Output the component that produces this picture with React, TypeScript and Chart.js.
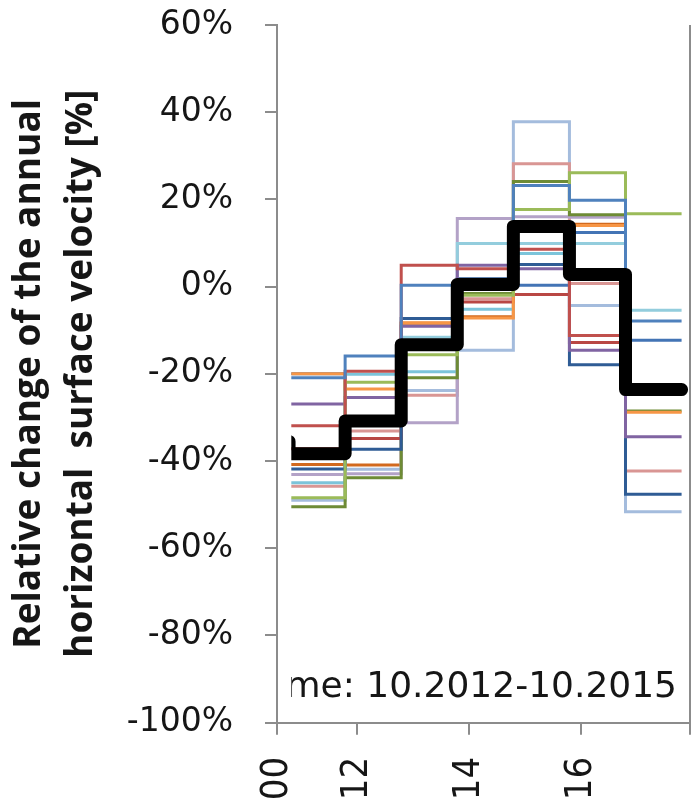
import { useEffect, useRef } from 'react';
import { Chart, registerables } from 'chart.js';

Chart.register(...registerables);

// Start of each annual period (hydrological year beginning in October), plus the final end.
const yearStarts = [2010.79, 2011.79, 2012.79, 2013.79, 2014.79, 2015.79, 2016.79, 2017.79];
// Left edge of the visible drawing window for the series.
const visibleFrom = 2010.83;

// Relative change per annual period [%], one array per glacier point (null = no data).
const blue = [-20.9, -15.9, 0.3, 1.0, 23.2, 19.8, -7.9];
const red = [-31.9, -19.4, 4.9, 4.1, 8.6, -11.2, null];
const lightGreen = [-48.4, -21.9, -15.6, -2.0, 17.7, 26.1, 16.7];
const purple = [-26.9, -25.4, -9.1, 4.9, 4.1, -14.6, -34.4];
const paleAqua = [null, null, -11.6, 9.9, 9.9, 9.9, -5.4];
const orange = [-20.0, -23.5, -8.3, -7.2, 13.5, 14.0, -28.8];
const darkBlue = [-41.8, -37.3, -7.3, 1.8, 5.1, -17.9, -47.6];
const darkRed = [-37.2, -34.8, -13.3, -3.5, -1.8, -12.8, null];
const darkGreen = [-50.5, -43.8, -20.9, -1.6, 24.1, 16.5, -28.5];
const lightPurple = [-43.1, -42.9, -31.2, 15.6, 16.0, 15.9, null];
const aqua = [-45.0, -20.1, -19.5, -5.2, 7.6, 3.0, null];
const pink = [-45.8, -33.1, -24.9, -2.8, 28.2, 0.7, -42.3];
const steelBlue = [-49.0, -41.9, -23.8, -14.6, 37.8, -4.3, -51.6];
const brownOrange = [-40.8, -40.9, -8.4, -6.9, 14.0, 14.3, -23.5];
const midBlue = [-20.0, -31.0, -13.0, 0.0, 0.3, 12.4, -12.3];

// Mean of all points, with the value of the preceding period.
const meanBefore = -35.5;
const meanChange = [-38.3, -30.8, -13.3, 0.5, 13.8, 2.8, -23.6];

const yTickValues = [-100, -80, -60, -40, -20, 0, 20, 40, 60];
const xTickValues = [2010.575, 2012, 2014, 2016, 2017.94];
const xTickLabels = ['00', '12', '14', '16', ''];

const titleLines = ['Relative change of the annual', 'horizontal  surface velocity [%]'];
const referenceNote = 'Reference time: 10.2012-10.2015';

const seriesTable: { values: (number | null)[]; color: string }[] = [
  { values: blue, color: '#4F81BD' },
  { values: red, color: '#C0504D' },
  { values: lightGreen, color: '#9BBB59' },
  { values: purple, color: '#8064A2' },
  { values: paleAqua, color: '#93CDDD' },
  { values: orange, color: '#F79646' },
  { values: darkBlue, color: '#2F5C95' },
  { values: darkRed, color: '#B94744' },
  { values: darkGreen, color: '#6E8B35' },
  { values: lightPurple, color: '#B3A2C7' },
  { values: aqua, color: '#7CC4DA' },
  { values: pink, color: '#D99694' },
  { values: steelBlue, color: '#A4BCDD' },
  { values: brownOrange, color: '#D2691E' },
  { values: midBlue, color: '#4374B5' },
];

const AXIS_GREY = '#8c8c8c';
const TEXT = '#161616';

function stepPoints(values: (number | null)[], lead?: number) {
  const pts: { x: number; y: number | null }[] = [];
  if (lead !== undefined) pts.push({ x: yearStarts[0], y: lead });
  values.forEach((v, k) => {
    if (v === null) {
      pts.push({ x: yearStarts[k], y: null });
      return;
    }
    pts.push({ x: yearStarts[k], y: v }, { x: yearStarts[k + 1], y: v });
  });
  return pts;
}

// Clips the series to the visible window and draws the right frame line and the note.
const framePlugin = {
  id: 'frameAndNote',
  beforeDatasetsDraw(chart: any) {
    const { ctx, chartArea, scales } = chart;
    const left = scales.x.getPixelForValue(visibleFrom);
    ctx.save();
    ctx.beginPath();
    ctx.rect(left, chartArea.top - 10, chartArea.right - left + 10, chartArea.bottom - chartArea.top + 20);
    ctx.clip();
  },
  afterDatasetsDraw(chart: any) {
    const { ctx, chartArea, scales } = chart;
    ctx.restore();

    // right frame line
    ctx.save();
    ctx.strokeStyle = AXIS_GREY;
    ctx.lineWidth = 2;
    ctx.beginPath();
    ctx.moveTo(chartArea.right, chartArea.top);
    ctx.lineTo(chartArea.right, chartArea.bottom);
    ctx.stroke();
    ctx.restore();

    // reference period note, cut at the window edge
    const left = scales.x.getPixelForValue(visibleFrom);
    ctx.save();
    ctx.beginPath();
    ctx.rect(left, chartArea.top, chartArea.right - left, chartArea.bottom - chartArea.top);
    ctx.clip();
    ctx.font = '36px "DejaVu Sans"';
    ctx.fillStyle = TEXT;
    ctx.textAlign = 'right';
    ctx.textBaseline = 'alphabetic';
    ctx.fillText(referenceNote, chartArea.right - 13, chartArea.bottom - 26);
    ctx.restore();
  },
};

export default function App() {
  const canvasRef = useRef<HTMLCanvasElement | null>(null);

  useEffect(() => {
    document.body.style.margin = '0';
    const canvas = canvasRef.current;
    if (!canvas) return;

    const datasets: any[] = [
      {
        label: 'Mean',
        data: stepPoints(meanChange, meanBefore),
        borderColor: '#000000',
        borderWidth: 13,
        borderJoinStyle: 'round',
        borderCapStyle: 'round',
        pointRadius: 0,
        tension: 0,
        spanGaps: false,
      },
      ...seriesTable.map((s, i) => ({
        label: 'P' + (i + 1),
        data: stepPoints(s.values),
        borderColor: s.color,
        borderWidth: 3,
        borderJoinStyle: 'miter',
        borderCapStyle: 'butt',
        pointRadius: 0,
        tension: 0,
        spanGaps: false,
      })),
    ];

    const chart = new Chart(canvas, {
      type: 'line',
      data: { datasets },
      options: {
        animation: false,
        responsive: false,
        devicePixelRatio: 1,
        parsing: false,
        normalized: true,
        layout: { padding: { top: 25, right: 3, bottom: 0, left: 0 } },
        plugins: {
          legend: { display: false },
          tooltip: { enabled: false },
        },
        events: [],
        scales: {
          x: {
            type: 'linear',
            min: xTickValues[0],
            max: xTickValues[xTickValues.length - 1],
            afterBuildTicks: (scale: any) => {
              scale.ticks = xTickValues.map((v) => ({ value: v }));
            },
            afterFit: (scale: any) => {
              scale.height = 75.3;
              scale.paddingLeft = 0;
              scale.paddingRight = 0;
            },
            grid: {
              display: true,
              drawOnChartArea: false,
              drawTicks: true,
              tickLength: 12,
              color: AXIS_GREY,
              lineWidth: 2,
            },
            border: { display: true, color: AXIS_GREY, width: 2 },
            ticks: {
              autoSkip: false,
              minRotation: 90,
              maxRotation: 90,
              padding: 22,
              color: TEXT,
              font: { family: "'Liberation Sans Narrow', 'DejaVu Sans Condensed', 'DejaVu Sans'", size: 38 },
              callback: (_v: any, idx: number) => xTickLabels[idx],
            },
          },
          y: {
            type: 'linear',
            min: yTickValues[0],
            max: yTickValues[yTickValues.length - 1],
            afterBuildTicks: (scale: any) => {
              scale.ticks = yTickValues.map((v) => ({ value: v }));
            },
            afterFit: (scale: any) => {
              scale.width = 277;
              scale.paddingTop = 0;
              scale.paddingBottom = 0;
            },
            grid: {
              display: true,
              drawOnChartArea: false,
              drawTicks: true,
              tickLength: 12,
              color: AXIS_GREY,
              lineWidth: 2,
            },
            border: { display: true, color: AXIS_GREY, width: 2 },
            ticks: {
              padding: 32,
              color: TEXT,
              font: { family: "'DejaVu Sans'", size: 33 },
              callback: (v: any) => v + '%',
            },
            title: {
              display: true,
              text: titleLines,
              color: TEXT,
              padding: { top: 4, bottom: 4 },
              font: { family: "'Open Sans'", weight: 'bold', size: 37, lineHeight: 1.4 },
            },
          },
        },
      } as any,
      plugins: [framePlugin],
    });

    return () => chart.destroy();
  }, []);

  return (
    <canvas
      ref={canvasRef}
      width={693}
      height={798}
      style={{ display: 'block', width: 693, height: 798 }}
    />
  );
}
